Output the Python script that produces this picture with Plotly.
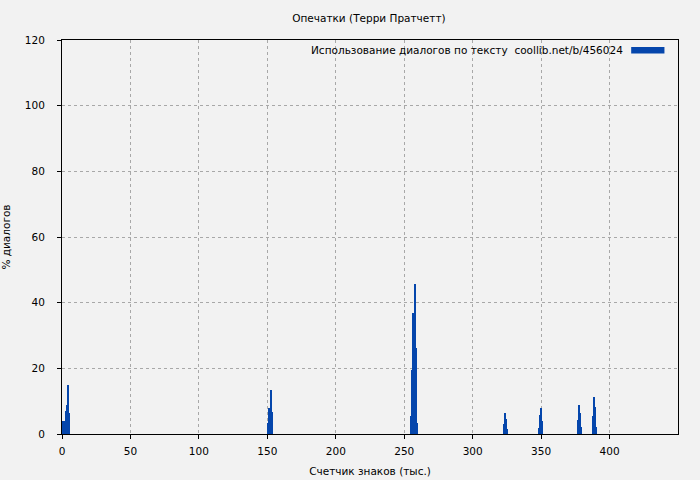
import plotly.graph_objects as go

# Dialogue share per text chunk (position in thousand characters, % dialogue)
positions = [1.0, 1.8, 2.6, 3.4, 4.2, 5.0,
             150.8, 151.6, 152.4, 153.2,
             255.2, 256.0, 256.8, 257.6, 258.4, 259.2,
             322.8, 323.6, 324.4, 325.2,
             348.4, 349.2, 350.0, 350.8,
             376.8, 377.6, 378.4, 379.2,
             387.8, 388.6, 389.4, 390.2]
dialog_pct = [4.0, 4.0, 7.1, 8.8, 14.9, 6.3,
              3.4, 8.0, 13.4, 6.6,
              5.6, 19.5, 37.0, 45.7, 26.1, 3.4,
              3.0, 6.4, 4.6, 1.5,
              1.8, 5.8, 7.9, 4.0,
              4.3, 8.8, 6.4, 2.1,
              5.5, 11.3, 8.2, 2.1]

title_text = "Опечатки (Терри Пратчетт)"
series_name = "Использование диалогов по тексту  coollib.net/b/456024"
x_title = "Счетчик знаков (тыс.)"
y_title = "% диалогов"
x_ticks = [0, 50, 100, 150, 200, 250, 300, 350, 400]
y_ticks = [0, 20, 40, 60, 80, 100, 120]

bar_color = "#0546ac"
font_family = "DejaVu Sans"
fsize = 10.5

fig = go.Figure()
fig.add_trace(go.Bar(
    x=positions, y=dialog_pct, width=0.8,
    marker=dict(color=bar_color, line=dict(width=0)),
    name=series_name, showlegend=False, hoverinfo="skip",
))

axis_common = dict(
    showline=True, linecolor="black", linewidth=1, mirror=True,
    ticks="outside", ticklen=4, tickcolor="black",
    showgrid=True, gridcolor="#a8a8a8", griddash="dot", gridwidth=1,
    zeroline=False, automargin=False,
    tickfont=dict(family=font_family, size=fsize, color="black"),
)

fig.update_layout(
    width=700, height=480,
    paper_bgcolor="#f2f2f2", plot_bgcolor="#f2f2f2",
    margin=dict(l=62, r=22, t=40, b=46),
    font=dict(family=font_family, size=fsize, color="black"),
    title=dict(text=title_text, x=0.527, xanchor="center", y=0.962, yanchor="middle",
               font=dict(family=font_family, size=fsize, color="black")),
    xaxis=dict(range=[0, 450], tickvals=x_ticks, ticklabelstandoff=3,
               title=dict(text=x_title, standoff=12,
                          font=dict(family=font_family, size=fsize)),
               **axis_common),
    yaxis=dict(range=[0, 120], tickvals=y_ticks, ticklabelstandoff=10,
               title=dict(text=y_title, standoff=18,
                          font=dict(family=font_family, size=fsize)),
               **axis_common),
    bargap=0,
    showlegend=False,
)

# legend-like label with swatch on the right (gnuplot style)
fig.add_annotation(
    xref="paper", yref="paper", x=0.914, y=0.974,
    text=series_name, showarrow=False, xanchor="right", yanchor="middle",
    font=dict(family=font_family, size=fsize, color="black"),
)
fig.add_shape(
    type="rect", xref="paper", yref="paper",
    x0=0.924, x1=0.978, y0=0.966, y1=0.982,
    fillcolor=bar_color, line=dict(width=0),
)

fig.write_html("out.html", config={"displayModeBar": False},
               post_script="document.body.style.margin='0';")
